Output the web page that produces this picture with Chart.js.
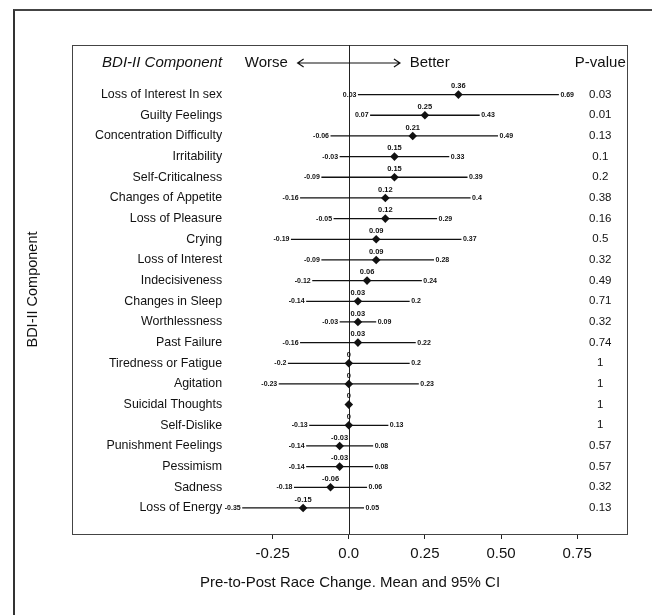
<!DOCTYPE html>
<html>
<head>
<meta charset="utf-8">
<script src="https://cdn.jsdelivr.net/npm/chart.js@4/dist/chart.umd.min.js"></script>
<style>
  body { margin:0; background:#fff; }
  #frame { position:absolute; left:13px; top:9px; width:640px; height:620px; border-left:2px solid #333; border-top:2px solid #444; }
  #forest { position:absolute; left:0; top:0; }
</style>
</head>
<body>
<div id="frame"></div>
<canvas id="forest" width="652" height="615"></canvas>
<script>
// BDI-II components, top to bottom
const components = ['Loss of Interest In sex','Guilty Feelings','Concentration Difficulty','Irritability','Self-Criticalness',
  'Changes of Appetite','Loss of Pleasure','Crying','Loss of Interest','Indecisiveness','Changes in Sleep','Worthlessness',
  'Past Failure','Tiredness or Fatigue','Agitation','Suicidal Thoughts','Self-Dislike','Punishment Feelings','Pessimism',
  'Sadness','Loss of Energy']
const means = [0.36,0.25,0.21,0.15,0.15,0.12,0.12,0.09,0.09,0.06,0.03,0.03,0.03,0,0,0,0,-0.03,-0.03,-0.06,-0.15]
const lower = [0.03,0.07,-0.06,-0.03,-0.09,-0.16,-0.05,-0.19,-0.09,-0.12,-0.14,-0.03,-0.16,-0.2,-0.23,0,-0.13,-0.14,-0.14,-0.18,-0.35]
const upper = [0.69,0.43,0.49,0.33,0.39,0.4,0.29,0.37,0.28,0.24,0.2,0.09,0.22,0.2,0.23,0,0.13,0.08,0.08,0.06,0.05]
const pvalues = ['0.03','0.01','0.13','0.1','0.2','0.38','0.16','0.5','0.32','0.49','0.71','0.32','0.74','1','1','1','1','0.57','0.57','0.32','0.13']
const tickValues = [-0.25,0,0.25,0.5,0.75]
const tickLabels = ['-0.25','0.0','0.25','0.50','0.75']

const FONT = '"Liberation Sans", Arial, sans-serif'
const INK = '#111'

var points = []
for (var i = 0; i < means.length; i++) {
  points.push({x: means[i], y: i})
}

// columns placed in data units along the x axis
var labelCol = -0.416
var pCol = 0.826
var headerRow = -1.53

const forestPlugin = {
  id: 'forest',
  beforeDatasetsDraw(chart) {
    const ctx = chart.ctx
    const xs = chart.scales.x, ys = chart.scales.y
    const a = chart.chartArea
    ctx.save()
    // box
    ctx.strokeStyle = '#444'
    ctx.lineWidth = 1
    ctx.strokeRect(a.left + 0.5, a.top + 0.5, a.right - a.left - 1, a.bottom - a.top)
    // zero line
    var zx = Math.round(xs.getPixelForValue(0)) + 0.5
    ctx.strokeStyle = '#222'
    ctx.beginPath()
    ctx.moveTo(zx, a.top)
    ctx.lineTo(zx, a.bottom)
    ctx.stroke()
    // confidence intervals
    ctx.strokeStyle = INK
    ctx.lineWidth = 1.3
    for (var i = 0; i < means.length; i++) {
      if (lower[i] == upper[i]) continue
      var y = ys.getPixelForValue(i)
      ctx.beginPath()
      ctx.moveTo(xs.getPixelForValue(lower[i]), y)
      ctx.lineTo(xs.getPixelForValue(upper[i]), y)
      ctx.stroke()
    }
    ctx.restore()
  },
  afterDatasetsDraw(chart) {
    const ctx = chart.ctx
    const xs = chart.scales.x, ys = chart.scales.y
    const a = chart.chartArea
    ctx.save()
    ctx.fillStyle = INK
    ctx.textBaseline = 'middle'

    for (var i = 0; i < components.length; i++) {
      var y = ys.getPixelForValue(i)
      // row label
      ctx.font = '12.4px ' + FONT
      ctx.textAlign = 'right'
      ctx.fillText(components[i], xs.getPixelForValue(labelCol), y)
      // p-value
      ctx.font = '11.5px ' + FONT
      ctx.textAlign = 'center'
      ctx.fillText(pvalues[i], xs.getPixelForValue(pCol), y)
      // mean above marker
      ctx.font = 'bold 7.5px ' + FONT
      ctx.fillText(String(means[i]), xs.getPixelForValue(means[i]), y - 8.5)
      // CI ends
      if (lower[i] != upper[i]) {
        ctx.font = 'bold 7px ' + FONT
        ctx.textAlign = 'right'
        ctx.fillText(String(lower[i]), xs.getPixelForValue(lower[i]) - 1.5, y)
        ctx.textAlign = 'left'
        ctx.fillText(String(upper[i]), xs.getPixelForValue(upper[i]) + 1.5, y)
      }
    }

    // header row
    var hy = ys.getPixelForValue(headerRow)
    ctx.font = 'italic 15px ' + FONT
    ctx.textAlign = 'right'
    ctx.fillText('BDI-II Component', xs.getPixelForValue(labelCol), hy)
    ctx.font = '15px ' + FONT
    ctx.fillText('Worse', xs.getPixelForValue(-0.2), hy)
    ctx.textAlign = 'left'
    ctx.fillText('Better', xs.getPixelForValue(0.2), hy)
    ctx.textAlign = 'center'
    ctx.fillText('P-value', xs.getPixelForValue(pCol), hy)

    // double arrow
    var x1 = xs.getPixelForValue(-0.168), x2 = xs.getPixelForValue(0.168)
    ctx.strokeStyle = INK
    ctx.lineWidth = 1.2
    ctx.beginPath()
    ctx.moveTo(x1, hy); ctx.lineTo(x2, hy)
    ctx.moveTo(x1 + 6, hy - 4); ctx.lineTo(x1, hy); ctx.lineTo(x1 + 6, hy + 4)
    ctx.moveTo(x2 - 6, hy - 4); ctx.lineTo(x2, hy); ctx.lineTo(x2 - 6, hy + 4)
    ctx.stroke()

    // y axis title
    ctx.translate(a.left - 39, (a.top + a.bottom) / 2)
    ctx.rotate(-Math.PI / 2)
    ctx.font = '14.5px ' + FONT
    ctx.textAlign = 'center'
    ctx.fillText('BDI-II Component', 0, 0)
    ctx.restore()
  }
}

var ctx = document.getElementById('forest')
var forestChart = new Chart(ctx, {
  type: 'scatter',
  data: {
    datasets: [{
      data: points,
      pointStyle: 'rectRot',
      pointRadius: 4.3,
      backgroundColor: INK,
      borderColor: INK,
      borderWidth: 0
    }]
  },
  options: {
    responsive: false,
    animation: false,
    devicePixelRatio: 1,
    layout: { padding: { left: 72, right: 24, top: 45, bottom: 0 } },
    plugins: { legend: { display: false }, tooltip: { enabled: false } },
    scales: {
      x: {
        type: 'linear',
        min: -0.909,
        max: 0.917,
        afterBuildTicks: (s) => { s.ticks = tickValues.map(v => ({value: v})) },
        afterFit: (s) => { s.height = 81 },
        ticks: {
          callback: (v, i) => tickLabels[i],
          font: { size: 15, family: FONT },
          color: INK,
          padding: 6
        },
        grid: { drawOnChartArea: false, drawTicks: true, tickLength: 5, tickColor: '#222' },
        border: { display: false },
        title: {
          display: true,
          text: 'Pre-to-Post Race Change. Mean and 95% CI',
          font: { size: 15, family: FONT },
          color: INK,
          padding: { top: 0, bottom: 23 }
        }
      },
      y: {
        type: 'linear',
        min: -2.4,
        max: 21.26,
        reverse: true,
        display: false
      }
    }
  },
  plugins: [forestPlugin]
})
</script>
</body>
</html>
